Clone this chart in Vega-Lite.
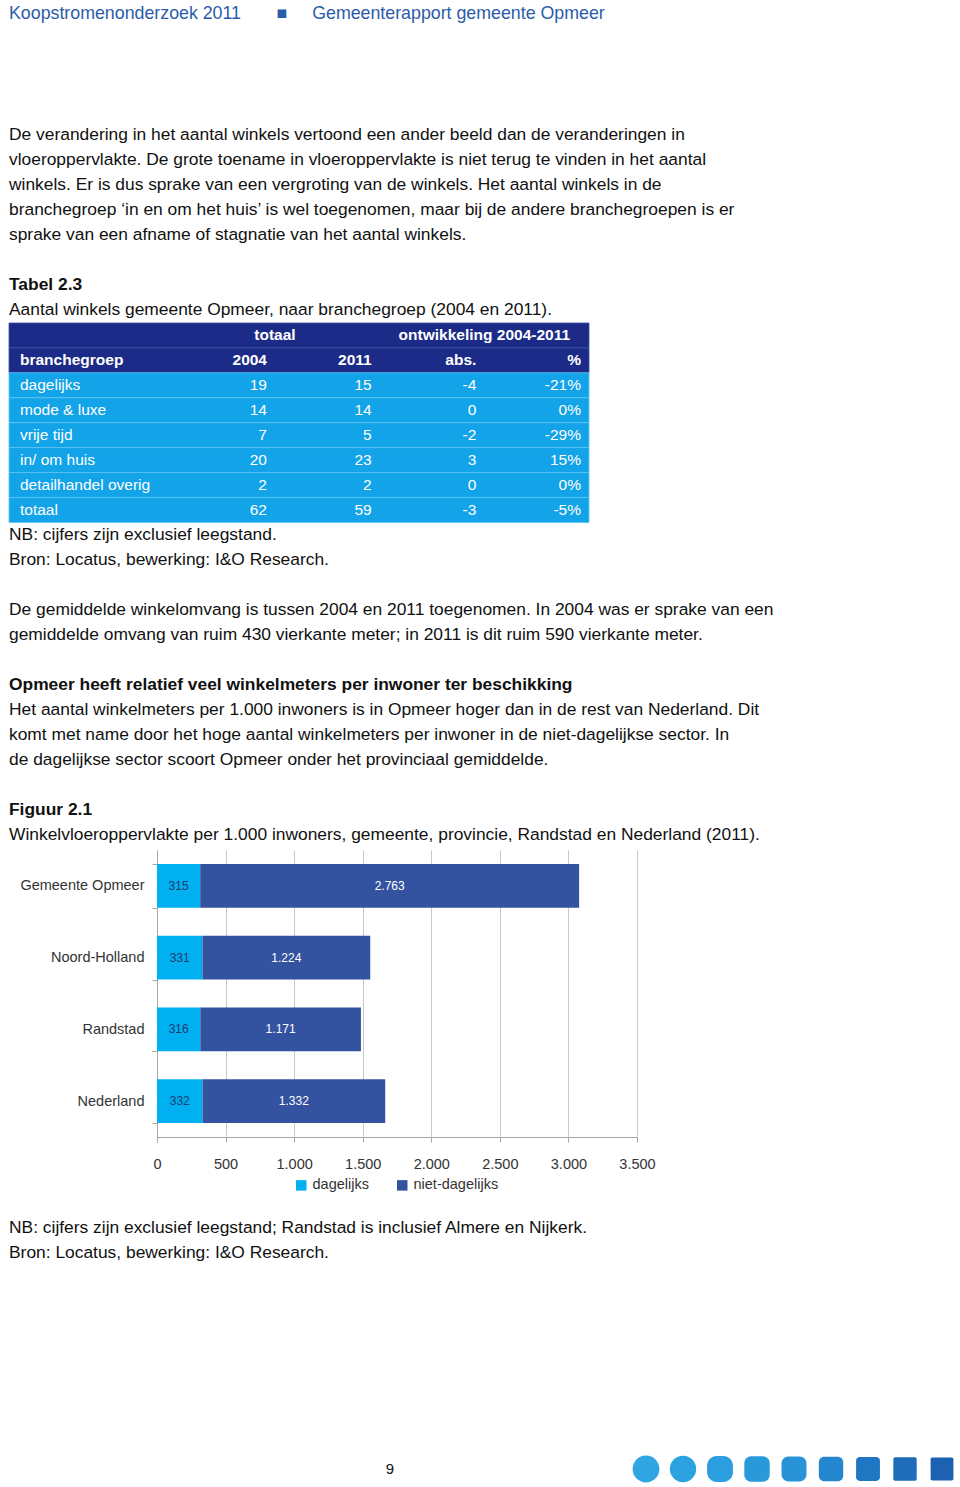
{
  "$schema": "https://vega.github.io/schema/vega-lite/v6.json",
  "padding": {"left": 8, "top": 0, "right": 0, "bottom": 0},
  "spacing": 0,
  "bounds": "flush",
  "resolve": {
    "scale": {"color": "independent", "shape": "independent", "size": "independent", "x": "independent", "y": "independent"},
    "legend": {"color": "independent", "shape": "independent", "size": "independent"}
  },
  "config": {
    "view": {"stroke": null},
    "font": "Liberation Sans",
    "locale": {"number": {"decimal": ",", "thousands": ".", "grouping": [3], "currency": ["€ ", ""], "minus": "-"}}
  },
  "datasets": {
    "header": [{"text": "Koopstromenonderzoek 2011\u2003\u2003■\u2003\u2009\u2009Gemeenterapport gemeente Opmeer"}],
    "top": [
      {"line": 1, "kind": "body", "text": "De verandering in het aantal winkels vertoond een ander beeld dan de veranderingen in"},
      {"line": 2, "kind": "body", "text": "vloeroppervlakte. De grote toename in vloeroppervlakte is niet terug te vinden in het aantal"},
      {"line": 3, "kind": "body", "text": "winkels. Er is dus sprake van een vergroting van de winkels. Het aantal winkels in de"},
      {"line": 4, "kind": "body", "text": "branchegroep ‘in en om het huis’ is wel toegenomen, maar bij de andere branchegroepen is er"},
      {"line": 5, "kind": "body", "text": "sprake van een afname of stagnatie van het aantal winkels."},
      {"line": 7, "kind": "heading", "text": "Tabel 2.3"},
      {"line": 8, "kind": "body", "text": "Aantal winkels gemeente Opmeer, naar branchegroep (2004 en 2011)."}
    ],
    "thead": [
      {"line": 9, "kind": "head1", "group1": "totaal", "group2": "ontwikkeling 2004-2011"},
      {"line": 10, "kind": "head2", "label": "branchegroep", "c1": "2004", "c2": "2011", "c3": "abs.", "c4": "%"}
    ],
    "tbody": [
      {"line": 11, "branchegroep": "dagelijks", "n2004": 19, "n2011": 15, "abs": -4, "pct": -0.21},
      {"line": 12, "branchegroep": "mode & luxe", "n2004": 14, "n2011": 14, "abs": 0, "pct": 0},
      {"line": 13, "branchegroep": "vrije tijd", "n2004": 7, "n2011": 5, "abs": -2, "pct": -0.29},
      {"line": 14, "branchegroep": "in/ om huis", "n2004": 20, "n2011": 23, "abs": 3, "pct": 0.15},
      {"line": 15, "branchegroep": "detailhandel overig", "n2004": 2, "n2011": 2, "abs": 0, "pct": 0},
      {"line": 16, "branchegroep": "totaal", "n2004": 62, "n2011": 59, "abs": -3, "pct": -0.05}
    ],
    "mid": [
      {"line": 17, "kind": "body", "text": "NB: cijfers zijn exclusief leegstand."},
      {"line": 18, "kind": "body", "text": "Bron: Locatus, bewerking: I&O Research."},
      {"line": 20, "kind": "body", "text": "De gemiddelde winkelomvang is tussen 2004 en 2011 toegenomen. In 2004 was er sprake van een"},
      {"line": 21, "kind": "body", "text": "gemiddelde omvang van ruim 430 vierkante meter; in 2011 is dit ruim 590 vierkante meter."},
      {"line": 23, "kind": "heading", "text": "Opmeer heeft relatief veel winkelmeters per inwoner ter beschikking"},
      {"line": 24, "kind": "body", "text": "Het aantal winkelmeters per 1.000 inwoners is in Opmeer hoger dan in de rest van Nederland. Dit"},
      {"line": 25, "kind": "body", "text": "komt met name door het hoge aantal winkelmeters per inwoner in de niet-dagelijkse sector. In"},
      {"line": 26, "kind": "body", "text": "de dagelijkse sector scoort Opmeer onder het provinciaal gemiddelde."},
      {"line": 28, "kind": "heading", "text": "Figuur 2.1"},
      {"line": 29, "kind": "body", "text": "Winkelvloeroppervlakte per 1.000 inwoners, gemeente, provincie, Randstad en Nederland (2011)."}
    ],
    "chart": [
      {"region": "Gemeente Opmeer", "type": "dagelijks", "value": 315},
      {"region": "Gemeente Opmeer", "type": "niet-dagelijks", "value": 2763},
      {"region": "Noord-Holland", "type": "dagelijks", "value": 331},
      {"region": "Noord-Holland", "type": "niet-dagelijks", "value": 1224},
      {"region": "Randstad", "type": "dagelijks", "value": 316},
      {"region": "Randstad", "type": "niet-dagelijks", "value": 1171},
      {"region": "Nederland", "type": "dagelijks", "value": 332},
      {"region": "Nederland", "type": "niet-dagelijks", "value": 1332}
    ],
    "bottom": [
      {"line": 1, "text": "NB: cijfers zijn exclusief leegstand; Randstad is inclusief Almere en Nijkerk."},
      {"line": 2, "text": "Bron: Locatus, bewerking: I&O Research."}
    ],
    "page": [{"page": "9"}],
    "marks": [{"i": 1}, {"i": 2}, {"i": 3}, {"i": 4}, {"i": 5}, {"i": 6}, {"i": 7}, {"i": 8}, {"i": 9}]
  },
  "vconcat": [
    {
      "width": 952, "height": 28,
      "data": {"name": "header"},
      "mark": {"type": "text", "align": "left", "baseline": "middle", "fontSize": 17.8, "color": "#2B5CAA"},
      "encoding": {
        "x": {"datum": 0, "scale": {"domain": [0, 1], "nice": false, "zero": false}, "axis": null},
        "text": {"field": "text"}
      }
    },
    {
      "width": 952, "height": 94.53,
      "data": {"values": []},
      "mark": "rect",
      "encoding": {}
    },
    {
      "width": 952, "height": 199.44,
      "data": {"name": "top"},
      "encoding": {
        "x": {"datum": 0, "scale": {"domain": [0, 1], "nice": false, "zero": false}, "axis": null},
        "y": {"field": "line", "type": "quantitative", "scale": {"domain": [0.5, 8.5], "reverse": true, "nice": false, "zero": false}, "axis": null},
        "text": {"field": "text"}
      },
      "layer": [
        {"transform": [{"filter": "datum.kind === 'body'"}], "mark": {"type": "text", "align": "left", "baseline": "middle", "fontSize": 17.4, "color": "#111111"}},
        {"transform": [{"filter": "datum.kind === 'heading'"}], "mark": {"type": "text", "align": "left", "baseline": "middle", "fontSize": 17.4, "fontWeight": "bold", "color": "#111111"}}
      ]
    },
    {
      "width": 580, "height": 199.44,
      "encoding": {
        "y": {"field": "line", "type": "ordinal", "scale": {"domain": [9, 10, 11, 12, 13, 14, 15, 16], "paddingInner": 0, "paddingOuter": 0}, "axis": null}
      },
      "layer": [
        {
          "data": {"name": "thead"},
          "mark": {"type": "rect", "fill": "#1B2B87", "stroke": "#3D52A8", "strokeWidth": 0.8},
          "encoding": {
            "x": {"datum": -1.5413, "scale": {"domain": [-1.5413, 4], "nice": false, "zero": false}, "axis": null},
            "x2": {"datum": 4}
          }
        },
        {
          "data": {"name": "tbody"},
          "mark": {"type": "rect", "fill": "#12A3E8", "stroke": "#5EC4F2", "strokeWidth": 0.8},
          "encoding": {
            "x": {"datum": -1.5413},
            "x2": {"datum": 4}
          }
        },
        {
          "data": {"name": "thead"},
          "transform": [{"filter": "datum.kind === 'head1'"}],
          "mark": {"type": "text", "align": "center", "baseline": "middle", "fontSize": 15.5, "fontWeight": "bold", "color": "white"},
          "encoding": {"x": {"datum": 1}, "text": {"field": "group1"}}
        },
        {
          "data": {"name": "thead"},
          "transform": [{"filter": "datum.kind === 'head1'"}],
          "mark": {"type": "text", "align": "center", "baseline": "middle", "fontSize": 15.5, "fontWeight": "bold", "color": "white"},
          "encoding": {"x": {"datum": 3}, "text": {"field": "group2"}}
        },
        {
          "data": {"name": "thead"},
          "transform": [{"filter": "datum.kind === 'head2'"}],
          "mark": {"type": "text", "align": "left", "baseline": "middle", "dx": 11, "fontSize": 15.5, "fontWeight": "bold", "color": "white"},
          "encoding": {"x": {"datum": -1.5413}, "text": {"field": "label"}}
        },
        {
          "data": {"name": "thead"},
          "transform": [{"filter": "datum.kind === 'head2'"}],
          "mark": {"type": "text", "align": "right", "baseline": "middle", "dx": -8, "fontSize": 15.5, "fontWeight": "bold", "color": "white"},
          "encoding": {"x": {"datum": 1}, "text": {"field": "c1"}}
        },
        {
          "data": {"name": "thead"},
          "transform": [{"filter": "datum.kind === 'head2'"}],
          "mark": {"type": "text", "align": "right", "baseline": "middle", "dx": -8, "fontSize": 15.5, "fontWeight": "bold", "color": "white"},
          "encoding": {"x": {"datum": 2}, "text": {"field": "c2"}}
        },
        {
          "data": {"name": "thead"},
          "transform": [{"filter": "datum.kind === 'head2'"}],
          "mark": {"type": "text", "align": "right", "baseline": "middle", "dx": -8, "fontSize": 15.5, "fontWeight": "bold", "color": "white"},
          "encoding": {"x": {"datum": 3}, "text": {"field": "c3"}}
        },
        {
          "data": {"name": "thead"},
          "transform": [{"filter": "datum.kind === 'head2'"}],
          "mark": {"type": "text", "align": "right", "baseline": "middle", "dx": -8, "fontSize": 15.5, "fontWeight": "bold", "color": "white"},
          "encoding": {"x": {"datum": 4}, "text": {"field": "c4"}}
        },
        {
          "data": {"name": "tbody"},
          "mark": {"type": "text", "align": "left", "baseline": "middle", "dx": 11, "fontSize": 15.5, "color": "white"},
          "encoding": {"x": {"datum": -1.5413}, "text": {"field": "branchegroep"}}
        },
        {
          "data": {"name": "tbody"},
          "mark": {"type": "text", "align": "right", "baseline": "middle", "dx": -8, "fontSize": 15.5, "color": "white"},
          "encoding": {"x": {"datum": 1}, "text": {"field": "n2004", "type": "quantitative", "format": "d"}}
        },
        {
          "data": {"name": "tbody"},
          "mark": {"type": "text", "align": "right", "baseline": "middle", "dx": -8, "fontSize": 15.5, "color": "white"},
          "encoding": {"x": {"datum": 2}, "text": {"field": "n2011", "type": "quantitative", "format": "d"}}
        },
        {
          "data": {"name": "tbody"},
          "mark": {"type": "text", "align": "right", "baseline": "middle", "dx": -8, "fontSize": 15.5, "color": "white"},
          "encoding": {"x": {"datum": 3}, "text": {"field": "abs", "type": "quantitative", "format": "d"}}
        },
        {
          "data": {"name": "tbody"},
          "mark": {"type": "text", "align": "right", "baseline": "middle", "dx": -8, "fontSize": 15.5, "color": "white"},
          "encoding": {"x": {"datum": 4}, "text": {"field": "pct", "type": "quantitative", "format": ".0%"}}
        }
      ]
    },
    {
      "width": 952, "height": 326.59,
      "data": {"name": "mid"},
      "encoding": {
        "x": {"datum": 0, "scale": {"domain": [0, 1], "nice": false, "zero": false}, "axis": null},
        "y": {"field": "line", "type": "quantitative", "scale": {"domain": [16.5, 29.6003], "reverse": true, "nice": false, "zero": false}, "axis": null},
        "text": {"field": "text"}
      },
      "layer": [
        {"transform": [{"filter": "datum.kind === 'body'"}], "mark": {"type": "text", "align": "left", "baseline": "middle", "fontSize": 17.4, "color": "#111111"}},
        {"transform": [{"filter": "datum.kind === 'heading'"}], "mark": {"type": "text", "align": "left", "baseline": "middle", "fontSize": 17.4, "fontWeight": "bold", "color": "#111111"}}
      ]
    },
    {
      "width": 952, "height": 287,
      "data": {"name": "chart"},
      "layer": [
        {
          "mark": {"type": "bar"},
          "encoding": {
            "y": {
              "field": "region", "type": "nominal",
              "sort": ["Gemeente Opmeer", "Noord-Holland", "Randstad", "Nederland"],
              "scale": {"paddingInner": 0.387, "paddingOuter": 0.1935},
              "axis": {"title": null, "orient": "left", "offset": -148, "tickBand": "extent", "tickSize": 5, "tickColor": "#A6A6A6", "domainColor": "#A6A6A6", "labelFontSize": 14.5, "labelColor": "#333333", "labelPadding": 8, "labelLimit": 300, "grid": false}
            },
            "x": {
              "field": "value", "type": "quantitative", "stack": "zero",
              "scale": {"domain": [0, 3500], "range": [148, 628], "nice": false, "zero": false},
              "axis": {"title": null, "values": [0, 500, 1000, 1500, 2000, 2500, 3000, 3500], "format": ",d", "grid": true, "gridColor": "#C8C8C8", "domainColor": "#A6A6A6", "tickColor": "#A6A6A6", "tickSize": 5, "labelFontSize": 14.5, "labelColor": "#333333", "labelPadding": 15, "labelFlush": false, "labelOverlap": false}
            },
            "color": {
              "field": "type", "type": "nominal",
              "scale": {"domain": ["dagelijks", "niet-dagelijks"], "range": ["#00B0F0", "#3352A0"]},
              "legend": {"orient": "none", "legendX": 285, "legendY": 328, "direction": "horizontal", "title": null, "symbolType": "square", "symbolSize": 110, "symbolStrokeWidth": 0, "labelFontSize": 14.5, "labelColor": "#333333", "columnPadding": 26, "labelOffset": 4}
            },
            "order": {"field": "type", "sort": "ascending"}
          }
        },
        {
          "transform": [
            {"stack": "value", "groupby": ["region"], "sort": [{"field": "type", "order": "ascending"}], "as": ["v0", "v1"]},
            {"fold": ["v0", "v1"], "as": ["edge", "pos"]},
            {"aggregate": [{"op": "mean", "field": "pos", "as": "mid"}, {"op": "max", "field": "value", "as": "value"}], "groupby": ["region", "type"]}
          ],
          "mark": {"type": "text", "align": "center", "baseline": "middle", "fontSize": 12},
          "encoding": {
            "y": {"field": "region", "type": "nominal", "sort": ["Gemeente Opmeer", "Noord-Holland", "Randstad", "Nederland"]},
            "x": {"field": "mid", "type": "quantitative"},
            "text": {"field": "value", "type": "quantitative", "format": ",d"},
            "color": {"condition": {"test": "datum.type === 'dagelijks'", "value": "#1E3A6E"}, "value": "#FFFFFF"}
          }
        }
      ]
    },
    {
      "width": 952, "height": 78.5,
      "data": {"values": []},
      "mark": "rect",
      "encoding": {}
    },
    {
      "width": 952, "height": 49.86,
      "data": {"name": "bottom"},
      "mark": {"type": "text", "align": "left", "baseline": "middle", "fontSize": 17.4, "color": "#111111"},
      "encoding": {
        "x": {"datum": 0, "scale": {"domain": [0, 1], "nice": false, "zero": false}, "axis": null},
        "y": {"field": "line", "type": "quantitative", "scale": {"domain": [0.5, 2.5], "reverse": true, "nice": false, "zero": false}, "axis": null},
        "text": {"field": "text"}
      }
    },
    {
      "width": 952, "height": 181.64,
      "data": {"values": []},
      "mark": "rect",
      "encoding": {}
    },
    {
      "width": 762, "height": 42,
      "layer": [
        {
          "data": {"name": "page"},
          "mark": {"type": "text", "align": "center", "baseline": "middle", "fontSize": 15, "color": "#111111"},
          "encoding": {"text": {"field": "page"}}
        },
        {
          "data": {"name": "marks"},
          "mark": {"type": "point", "filled": true, "opacity": 1, "strokeWidth": 0},
          "encoding": {
            "x": {"field": "i", "type": "quantitative", "scale": {"domain": [-16.216, 4.378], "nice": false, "zero": false}, "axis": null},
            "shape": {"field": "i", "type": "ordinal", "legend": null, "scale": {"domain": [1, 2, 3, 4, 5, 6, 7, 8, 9], "range": [
              "M-1,0C-1,-0.552 -0.552,-1 0,-1C0.552,-1 1,-0.552 1,0C1,0.552 0.552,1 0,1C-0.552,1 -1,0.552 -1,0Z",
              "M-1,0C-1,-0.552 -0.552,-1 0,-1C0.552,-1 1,-0.552 1,0C1,0.552 0.552,1 0,1C-0.552,1 -1,0.552 -1,0Z",
              "M-1,-0.25C-1,-0.664 -0.664,-1 -0.25,-1L0.25,-1C0.664,-1 1,-0.664 1,-0.25L1,0.25C1,0.664 0.664,1 0.25,1L-0.25,1C-0.664,1 -1,0.664 -1,0.25Z",
              "M-1,-0.45C-1,-0.754 -0.754,-1 -0.45,-1L0.45,-1C0.754,-1 1,-0.754 1,-0.45L1,0.45C1,0.754 0.754,1 0.45,1L-0.45,1C-0.754,1 -1,0.754 -1,0.45Z",
              "M-1,-0.45C-1,-0.754 -0.754,-1 -0.45,-1L0.45,-1C0.754,-1 1,-0.754 1,-0.45L1,0.45C1,0.754 0.754,1 0.45,1L-0.45,1C-0.754,1 -1,0.754 -1,0.45Z",
              "M-1,-0.55C-1,-0.799 -0.799,-1 -0.55,-1L0.55,-1C0.799,-1 1,-0.799 1,-0.55L1,0.55C1,0.799 0.799,1 0.55,1L-0.55,1C-0.799,1 -1,0.799 -1,0.55Z",
              "M-1,-0.7C-1,-0.866 -0.866,-1 -0.7,-1L0.7,-1C0.866,-1 1,-0.866 1,-0.7L1,0.7C1,0.866 0.866,1 0.7,1L-0.7,1C-0.866,1 -1,0.866 -1,0.7Z",
              "M-1,-0.85C-1,-0.933 -0.933,-1 -0.85,-1L0.85,-1C0.933,-1 1,-0.933 1,-0.85L1,0.85C1,0.933 0.933,1 0.85,1L-0.85,1C-0.933,1 -1,0.933 -1,0.85Z",
              "M-1,-0.85C-1,-0.933 -0.933,-1 -0.85,-1L0.85,-1C0.933,-1 1,-0.933 1,-0.85L1,0.85C1,0.933 0.933,1 0.85,1L-0.85,1C-0.933,1 -1,0.933 -1,0.85Z"
            ]}},
            "color": {"field": "i", "type": "ordinal", "legend": null, "scale": {"domain": [1, 2, 3, 4, 5, 6, 7, 8, 9], "range": ["#2FA5E2", "#2DA2E0", "#2B9EDE", "#2A99DA", "#2893D6", "#2486CE", "#1F77C4", "#1E6CBA", "#1D62B2"]}},
            "size": {"field": "i", "type": "quantitative", "legend": null, "scale": {"domain": [1, 9], "range": [720, 520], "zero": false}}
          }
        }
      ]
    }
  ]
}
